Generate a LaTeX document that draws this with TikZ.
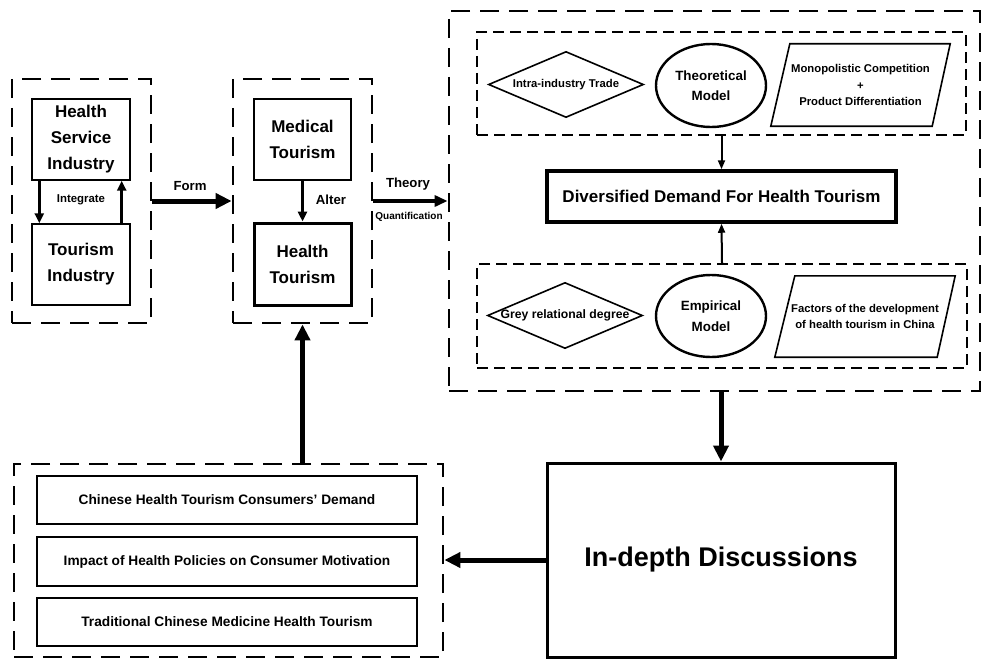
\documentclass[tikz,border=0pt]{standalone}
\usepackage{fontspec}
\setmainfont{Liberation Sans}
\usetikzlibrary{arrows.meta,shapes.geometric,calc}
\begin{document}
\begin{tikzpicture}[x=1pt,y=-1pt,
  bigdash/.style={draw, line width=2.8pt, dash pattern=on 19pt off 10pt, inner sep=0pt},
  thindash/.style={draw, line width=1.6pt, dash pattern=on 11pt off 6pt, inner sep=0pt},
  thinbox/.style={draw, line width=1.4pt, inner sep=0pt, align=center, font=\fontsize{17}{26}\selectfont\bfseries},
  thickbox/.style={draw, line width=3pt, inner sep=0pt, align=center, font=\fontsize{17}{26}\selectfont\bfseries},
  divbox/.style={draw, line width=3.5pt, inner sep=0pt, align=center, font=\fontsize{17}{20}\selectfont\bfseries},
  bigbox/.style={draw, line width=3pt, inner sep=0pt, align=center, font=\fontsize{27}{30}\selectfont\bfseries},
  listbox/.style={draw, line width=2pt, inner sep=0pt, minimum width=380pt, align=center, font=\fontsize{13.7}{16}\selectfont\bfseries},
  ell/.style={draw, ellipse, line width=2.4pt, inner sep=0pt, align=center, font=\fontsize{13.4}{20.5}\selectfont\bfseries},
  shapetxt/.style={inner sep=0pt, align=center, font=\fontsize{11.3}{16.8}\selectfont\bfseries},
  outline/.style={draw, line width=1.6pt, line join=miter},
  lblA/.style={inner sep=0pt, font=\fontsize{11.4}{13}\selectfont\bfseries},
  lblB/.style={inner sep=0pt, font=\fontsize{13.2}{15}\selectfont\bfseries},
  lblC/.style={inner sep=0pt, font=\fontsize{10}{12}\selectfont\bfseries},
  fatarrow/.style={line width=5pt, -{Triangle[length=16pt,width=15pt]}},
  medarrow/.style={line width=4pt, -{Triangle[length=13pt,width=11pt]}},
  thinarrow/.style={line width=2.5pt, -{Triangle[length=10pt,width=9pt]}},
  tinyarrow/.style={line width=2pt, -{Triangle[length=9pt,width=7pt]}}
]
\useasboundingbox (0,0) rectangle (984,658);

% left group
\node[bigdash, minimum width=139pt, minimum height=244pt] (lbox) at (81.5,201) {};
\node[thinbox, minimum width=98pt, minimum height=81pt] (hsi) at (81,139.5) {Health\\Service\\Industry};
\node[thinbox, minimum width=98pt, minimum height=81pt] (ti) at (81,264.5) {Tourism\\Industry};
\node[lblA] (integ) at (81,200) {Integrate};

% middle group
\node[bigdash, minimum width=139pt, minimum height=244pt] (mbox) at (302.5,201) {};
\node[thinbox, minimum width=97pt, minimum height=81pt] (mt) at (302.5,139.5) {Medical\\Tourism};
\node[thickbox, minimum width=97pt, minimum height=82pt] (ht) at (302.5,264) {Health\\Tourism};
\node[lblB] (alter) at (331,200) {Alter};
\node[lblB] (form) at (190,186) {Form};
\node[lblB] (theory) at (408,184) {Theory};
\node[lblC] (quant) at (409,217) {Quantification};

% right big group
\node[bigdash, minimum width=531pt, minimum height=380pt] (bigbox) at (714.5,201) {};
\node[thindash, minimum width=489pt, minimum height=103pt] (topin) at (721.5,83.5) {};
\node[shapetxt, minimum width=154pt, minimum height=65pt] (itt) at (566,84.5) {Intra-industry Trade};
\draw[outline] (itt.west) -- (itt.north) -- (itt.east) -- (itt.south) -- cycle;
\node[ell, minimum width=110pt, minimum height=83pt] (tm) at (711,85.5) {Theoretical\\Model};
\node[shapetxt, minimum width=179pt, minimum height=82pt] (mpc) at (860.5,85) {Monopolistic Competition\\+\\Product Differentiation};
\draw[outline] (mpc.south west) -- ($(mpc.north west)+(19,0)$) -- (mpc.north east) -- ($(mpc.south east)+(-18,0)$) -- cycle;

\node[divbox, minimum width=349pt, minimum height=51pt] (div) at (721.5,196.5) {Diversified Demand For Health Tourism};

\node[thindash, minimum width=490pt, minimum height=104pt] (botin) at (722,316) {};
\node[shapetxt, font=\fontsize{12.2}{14}\selectfont\bfseries, minimum width=154pt, minimum height=65pt] (grd) at (565,315.5) {Grey relational degree};
\draw[outline] (grd.west) -- (grd.north) -- (grd.east) -- (grd.south) -- cycle;
\node[ell, minimum width=110pt, minimum height=82pt] (emp) at (711,316) {Empirical\\Model};
\node[shapetxt, minimum width=180pt, minimum height=81pt] (fac) at (865,316.5) {Factors of the development\\of health tourism in China};
\draw[outline] (fac.south west) -- ($(fac.north west)+(20,0)$) -- (fac.north east) -- ($(fac.south east)+(-18,0)$) -- cycle;

% bottom
\node[bigbox, minimum width=348pt, minimum height=194pt] (indepth) at (721,560) {In-depth Discussions};
\node[bigdash, minimum width=429pt, minimum height=193pt] (botbox) at (228.5,560.5) {};
\node[listbox, minimum height=48pt] (r1) at (227,500) {Chinese Health Tourism Consumers’ Demand};
\node[listbox, minimum height=49pt] (r2) at (227,561.5) {Impact of Health Policies on Consumer Motivation};
\node[listbox, minimum height=48pt] (r3) at (227,622) {Traditional Chinese Medicine Health Tourism};

% connectors
\draw[thinarrow] ($(hsi.south west)+(8,0)$) -- ($(ti.north west)+(8,0)$);
\draw[thinarrow] ($(ti.north east)+(-9,0)$) -- ($(hsi.south east)+(-9,0)$);
\draw[thinarrow] (mt.south) -- (ht.north);
\draw[fatarrow] (lbox.east) -- (mbox.west);
\draw[medarrow] (mbox.east) -- (bigbox.west |- mbox.east);
\draw[tinyarrow] (topin.south) -- (div.north);
\draw[tinyarrow] (botin.north) -- (div.south);
\draw[fatarrow] (indepth.north |- bigbox.south) -- (indepth.north);
\draw[fatarrow] (indepth.west) -- (botbox.east |- indepth.west);
\draw[fatarrow] (mbox.south |- botbox.north) -- (mbox.south);
\end{tikzpicture}
\end{document}
